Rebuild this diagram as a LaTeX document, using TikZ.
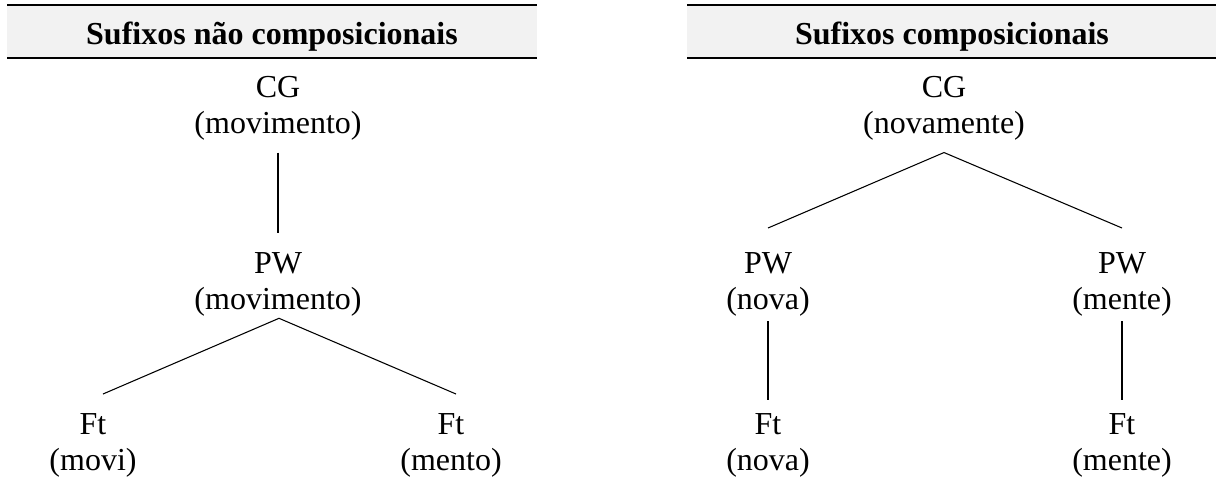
\documentclass[tikz,border=0pt]{standalone}
\usepackage{fontspec}
\setmainfont{Liberation Serif}
\usetikzlibrary{calc}

\tikzset{
  headband/.style={fill=black!5, draw=none},
  headrule/.style={line width=1.6pt},
  headtext/.style={font=\fontsize{24}{28}\selectfont\bfseries, inner sep=0pt, anchor=base},
  tnode/.style={font=\fontsize{24}{27}\selectfont, align=center, inner sep=0pt, anchor=north},
  branch/.style={line width=0.8pt}
}

\begin{document}
\begin{tikzpicture}[x=0.75pt, y=-0.75pt]
  \useasboundingbox (0,0) rectangle (1216,483);

  % header bands
  \fill[headband] (7,5) rectangle (537,58);
  \draw[headrule] (7,5) -- (537,5);
  \draw[headrule] (7,58) -- (537,58);
  \node[headtext] (hL) at (272,44) {Sufixos não composicionais};

  \fill[headband] (687,5) rectangle (1216,58);
  \draw[headrule] (687,5) -- (1216,5);
  \draw[headrule] (687,58) -- (1216,58);
  \node[headtext] (hR) at (952,44) {Sufixos composicionais};

  % left tree: non-compositional suffixes
  \node[tnode] (cgL)  at (278,76)  {CG\\(movimento)};
  \node[tnode] (pwL)  at (278,252) {PW\\(movimento)};
  \node[tnode] (ftL1) at (93,413)  {Ft\\(movi)};
  \node[tnode] (ftL2) at (451,413) {Ft\\(mento)};

  \draw[branch] ($(cgL.south)+(0,12)$) -- ($(pwL.north)+(0,-19)$);
  \draw[branch] ($(ftL1.north)+(10,-19)$) -- ($(pwL.south)+(1,2)$) -- ($(ftL2.north)+(5,-19)$);

  % right tree: compositional suffixes
  \node[tnode] (cgR)  at (944,76)   {CG\\(novamente)};
  \node[tnode] (pwR1) at (768,252)  {PW\\(nova)};
  \node[tnode] (pwR2) at (1122,252) {PW\\(mente)};
  \node[tnode] (ftR1) at (768,413)  {Ft\\(nova)};
  \node[tnode] (ftR2) at (1122,413) {Ft\\(mente)};

  \draw[branch] ($(pwR1.north)+(0,-24)$) -- ($(cgR.south)+(0,12)$) -- ($(pwR2.north)+(0,-24)$);
  \draw[branch] ($(pwR1.south)+(0,5)$) -- ($(ftR1.north)+(0,-13)$);
  \draw[branch] ($(pwR2.south)+(0,5)$) -- ($(ftR2.north)+(0,-13)$);
\end{tikzpicture}
\end{document}
